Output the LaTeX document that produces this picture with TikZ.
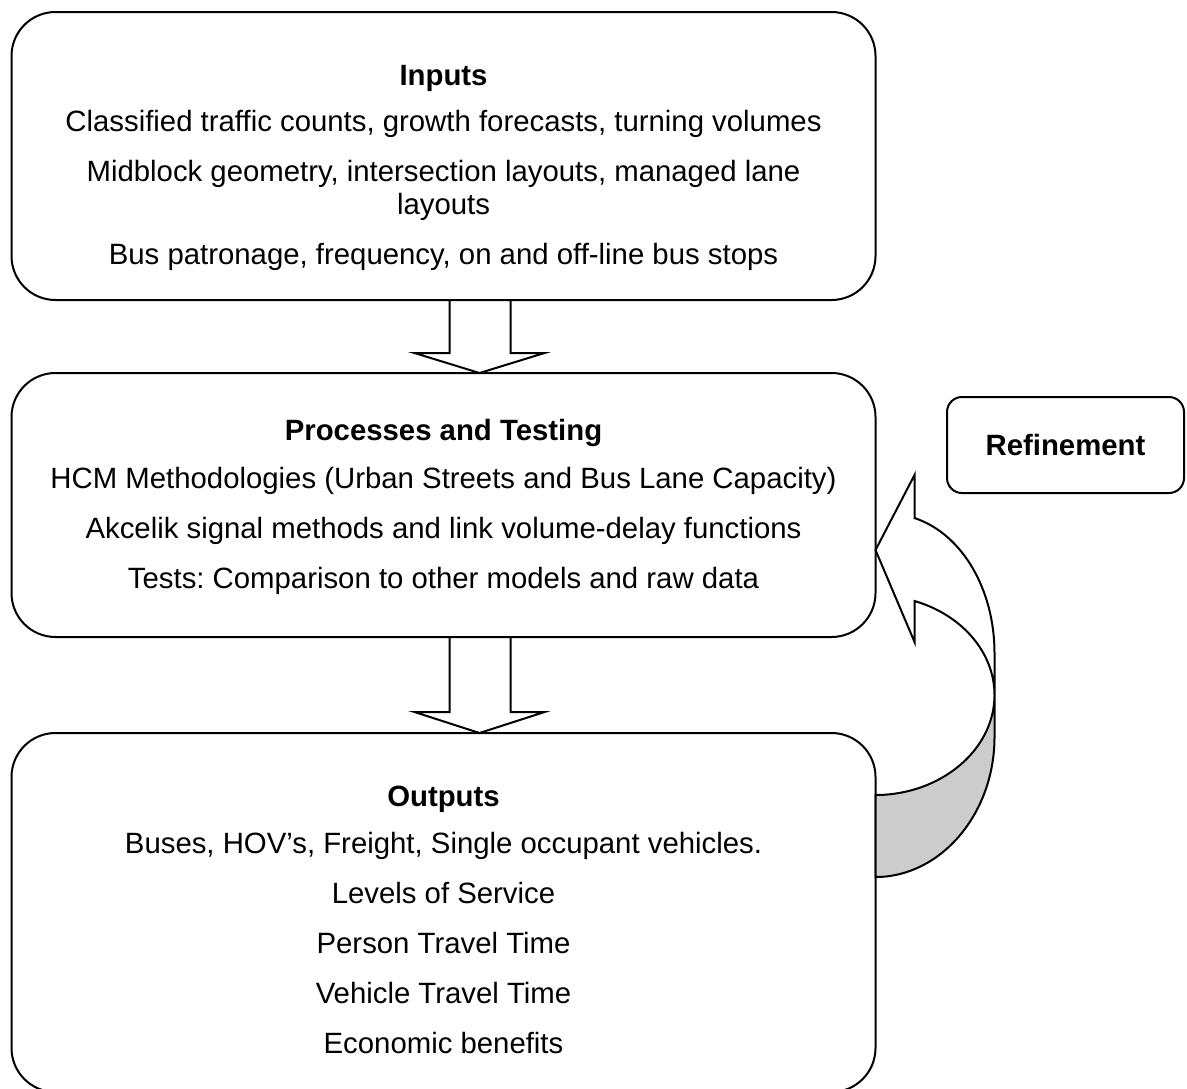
\documentclass[tikz,border=0pt]{standalone}
\usepackage{fontspec}
\setmainfont{Liberation Sans}
\usetikzlibrary{calc}

\begin{document}
\begin{tikzpicture}[x=0.5pt,y=-0.5pt,
    stage/.style={draw, line width=1pt, rounded corners=22pt, outer sep=0pt,
      minimum width=432pt, align=center,
      font=\fontsize{14.67pt}{16.5pt}\selectfont\frenchspacing},
    side/.style={draw, line width=1pt, rounded corners=7.5pt, outer sep=0pt,
      minimum width=118.5pt, minimum height=48pt,
      font=\fontsize{14.67pt}{16.5pt}\selectfont\bfseries},
    blockarrow/.style={line width=1pt}]
  \useasboundingbox (0,0) rectangle (1187,1088);

  % The three stages, top to bottom
  \node[stage, minimum height=144pt] (Inputs) at (443.5,156) {\rule{0pt}{22.5pt}\textbf{Inputs}\\[6.5pt]
    Classified traffic counts, growth forecasts, turning volumes\\[8.5pt]
    Midblock geometry, intersection layouts, managed lane\\layouts\\[8.5pt]
    Bus patronage, frequency, on and off-line bus stops};
  \node[stage, minimum height=132pt] (Process) at (443.5,505) {\rule{0pt}{12.5pt}\textbf{Processes and Testing}\\[7.5pt]
    HCM Methodologies (Urban Streets and Bus Lane Capacity)\\[8.5pt]
    Akcelik signal methods and link volume-delay functions\\[8.5pt]
    Tests: Comparison to other models and raw data};
  \node[stage, minimum height=179.5pt] (Outputs) at (443.5,912.5) {\rule{0pt}{17.5pt}\textbf{Outputs}\\[7pt]
    Buses, HOV’s, Freight, Single occupant vehicles.\\[8.5pt]
    Levels of Service\\[8.5pt]
    Person Travel Time\\[8.5pt]
    Vehicle Travel Time\\[8.5pt]
    Economic benefits};

  % Side box
  \node[side] (Refine) at (1065.5,445) {Refinement};

  % Block arrows between the stages
  \draw[blockarrow] ($(Inputs.south)+(6,0)$) -- ($(Process.north)+(6,-20)$)
    -- ($(Process.north)+(-29,-20)$) -- ($(Process.north)+(36,0)$)
    -- ($(Process.north)+(101,-20)$) -- ($(Process.north)+(67,-20)$)
    -- ($(Inputs.south)+(67,0)$);
  \draw[blockarrow] ($(Process.south)+(6,0)$) -- ($(Outputs.north)+(6,-21)$)
    -- ($(Outputs.north)+(-29,-21)$) -- ($(Outputs.north)+(36,0)$)
    -- ($(Outputs.north)+(101,-21)$) -- ($(Outputs.north)+(67,-21)$)
    -- ($(Process.south)+(67,0)$);

  % Curved arrow from the outputs back to the processes
  \coordinate (looptip) at ($(Process.east)+(0,45)$);
  \begin{scope}[shift={(looptip)}, line width=1pt]
    \draw[fill=gray!40] (119,145) -- (119,187) .. controls (119,264) and (65,327) .. (0,327)
      -- (0,245) .. controls (65,245) and (119,200) .. (119,145) -- cycle;
    \draw[fill=white] (0,0) -- (39,-75) -- (39,-32) .. controls (87,-16) and (119,40) .. (119,103)
      -- (119,145) .. controls (119,103) and (87,65) .. (39,51) -- (39,92) -- cycle;
  \end{scope}
\end{tikzpicture}
\end{document}
